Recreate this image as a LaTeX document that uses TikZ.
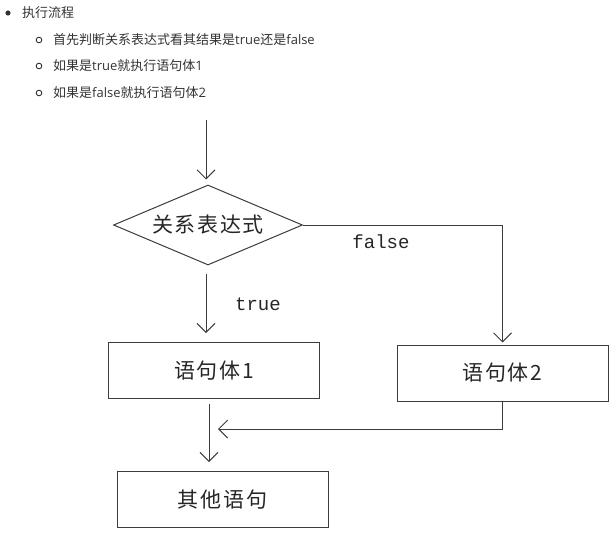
\documentclass[tikz,border=0pt]{standalone}
\usepackage{fontspec}
\setmainfont{Open Sans}
\newfontfamily\cjk{Noto Sans CJK SC}
\newfontfamily\cjkwide[LetterSpace=8]{Noto Sans CJK SC}
\newfontfamily\codefont{Liberation Mono}
\usetikzlibrary{arrows.meta,positioning,shapes.geometric}
\usepackage{xcolor}
\definecolor{TextGray}{HTML}{333333}
\definecolor{LineGray}{HTML}{3C3C3C}

\begin{document}
\begin{tikzpicture}[x=1pt, y=-1pt,
    item/.style={anchor=west, inner sep=0pt, text=TextGray,
                 font=\fontsize{13}{15}\selectfont},
    box/.style={draw=LineGray, line width=1pt, minimum width=211pt, minimum height=56pt,
                inner sep=0pt, font=\cjkwide\fontsize{21}{24}\selectfont, text=black!85},
    cond/.style={diamond, aspect=2.36, draw=LineGray, line width=1pt, minimum width=189pt,
                 minimum height=80pt, inner sep=0pt, font=\cjkwide\fontsize{21}{24}\selectfont,
                 text=black!85},
    lbl/.style={font=\codefont\fontsize{19}{22}\selectfont, text=black!85, inner sep=0pt},
    arr/.style={draw=LineGray, line width=1pt, -{Straight Barb[length=9pt,width=18pt]}}
  ]
    \useasboundingbox (0,0) rectangle (613,535);

    % bullet list
    \fill[TextGray] (8,13) circle (2.6pt);
    \foreach \yy in {40,66,93}
      \draw[TextGray, line width=0.9pt] (39,\yy) circle (2.8pt);
    \node[item] (t0) at (22,13) {{\cjk 执行流程}};
    \node[item] (t1) at (53,40) {{\cjk 首先判断关系表达式看其结果是}true{\cjk 还是}false};
    \node[item] (t2) at (53,66) {{\cjk 如果是}true{\cjk 就执行语句体}1};
    \node[item] (t3) at (53,93) {{\cjk 如果是}false{\cjk 就执行语句体}2};

    % flow chart
    \coordinate (start) at (206,120);
    \node[cond] (rel) at (208,225) {关系表达式};
    \node[box]  (s1)  at (214,370.5) {语句体1};
    \node[box]  (s2)  at (502.5,373) {语句体2};
    \node[box]  (oth) at (222.5,499.5) {其他语句};
    \coordinate (join) at (209,429);
    \coordinate (back) at (218,429);

    \draw[arr, shorten >=5pt] (start) -- (start |- rel.north);
    \draw[arr, shorten <=8pt, shorten >=9pt] (rel.south -| start) -- (s1.north -| start);
    \draw[arr, shorten >=2pt] (rel.east) -| (s2.south |- s2.north);
    \draw[arr, shorten <=5pt, shorten >=9pt] (s1.south -| join) -- (oth.north -| join);
    \draw[arr] (s2.south) |- (back);

    \node[lbl] (f) at (381,242) {false};
    \node[lbl] (t) at (258,304) {true};
  \end{tikzpicture}
\end{document}
